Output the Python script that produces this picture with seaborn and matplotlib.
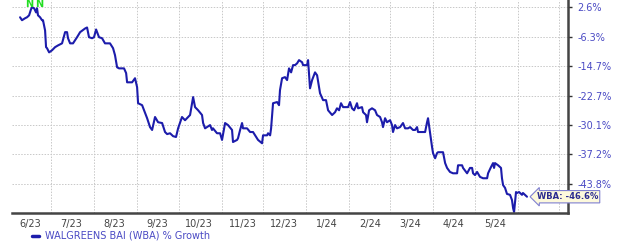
import numpy as np
import pandas as pd
import matplotlib
matplotlib.use("Agg")
import matplotlib.pyplot as plt
import matplotlib.dates as mdates
import seaborn as sns

# ---- data ----
start_date = "2023-06-09"
days = [0, 1.4, 3.6, 5.0, 6.5, 7.9, 8.6, 10.1, 11.5, 12.2, 12.9, 14.4, 15.8, 16.5, 18.0, 18.7, 19.4, 20.9,
        23.0, 25.2, 27.3, 30.2, 32.4, 33.8, 34.5, 36.0, 38.1, 41.0, 43.2, 46.8, 48.2, 49.6, 51.8, 53.2,
        54.7, 55.4, 56.8, 59.0, 61.1, 64.7, 66.9, 68.3, 69.8, 71.2, 74.8, 76.3, 77.0, 80.6, 82.7, 84.2,
        84.9, 87.8, 91.4, 93.5, 95.0, 97.1, 99.3, 102.2, 104.3, 105.8, 107.9, 110.1, 112.2, 113.7, 116.5,
        118.7, 122.3, 124.5, 125.9, 128.1, 130.9, 131.7, 133.1, 134.5, 136.7, 138.1, 138.8, 141.7, 143.9,
        145.3, 147.5, 149.6, 152.5, 153.2, 156.1, 156.8, 158.3, 159.7, 160.4, 163.3, 165.5, 167.6, 169.1,
        171.2, 174.1, 174.8, 177.7, 178.4, 179.9, 180.6, 182.0, 184.9, 186.3, 187.0, 188.5, 190.6, 192.1,
        193.5, 195.0, 196.4, 197.8, 199.3, 200.7, 202.9, 203.6, 206.5, 207.2, 208.6, 210.1, 212.2, 213.7,
        215.8, 218.0, 220.1, 221.6, 224.5, 226.6, 228.0, 229.5, 230.9, 232.4, 236.0, 237.4, 238.8, 240.3,
        242.4, 243.2, 246.0, 246.8, 248.9, 249.6, 251.1, 253.2, 255.4, 256.8, 259.0, 260.4, 261.1, 262.6,
        264.0, 266.2, 267.6, 268.3, 269.8, 271.2, 273.4, 275.5, 277.0, 279.1, 280.6, 282.7, 284.2, 285.6,
        286.3, 289.9, 291.4, 292.8, 293.5, 295.0, 296.4, 297.1, 298.6, 300.0, 300.7, 304.3, 305.8, 307.2,
        309.3, 311.5, 314.4, 315.1, 318.0, 318.7, 321.6, 323.7, 325.2, 325.9, 327.3, 328.8, 330.9, 333.1,
        336.0, 336.7, 338.8, 340.3, 341.0, 341.7, 343.9, 346.0, 346.7, 347.5, 348.9, 350.3, 352.5, 353.9,
        354.7, 355.4, 356.1, 356.8, 357.5, 359.0, 361.1, 361.8, 364.7]
growth = [-0.5, -1.4, -0.8, -0.5, 0.1, 2.0, 2.6, 2.3, 1.0, 2.3, 0.1, -0.5, -1.4, -1.4, -4.5, -9.4, -9.7, -10.9,
          -10.3, -9.4, -8.9, -8.3, -5.0, -5.0, -6.8, -8.3, -8.3, -6.5, -5.0, -3.9, -3.6, -6.5, -6.8, -6.5,
          -4.2, -5.0, -6.5, -6.8, -8.3, -8.3, -9.7, -11.7, -15.1, -15.4, -15.4, -16.7, -19.2, -19.2, -18.1, -20.5,
          -24.7, -25.2, -28.5, -30.7, -31.4, -28.2, -29.5, -29.7, -31.9, -32.4, -32.2, -32.9, -33.1, -31.0, -28.2,
          -29.0, -27.7, -23.1, -25.7, -26.5, -27.7, -29.7, -31.0, -30.7, -30.2, -31.4, -31.0, -32.2, -32.2,
          -33.8, -29.7, -30.2, -31.4, -34.3, -33.8, -33.4, -31.4, -29.7, -31.0, -31.0, -31.9, -31.9, -32.7,
          -33.8, -34.6, -32.7, -32.7, -32.2, -32.7, -31.0, -24.7, -24.4, -25.2, -21.3, -18.1, -17.8, -18.6,
          -15.4, -16.5, -14.5, -14.5, -14.0, -13.1, -13.7, -14.5, -14.5, -13.1, -20.8, -18.6, -16.5, -17.3,
          -22.1, -23.9, -23.9, -26.5, -27.7, -27.0, -26.0, -26.5, -24.7, -25.7, -25.7, -24.4, -26.0, -26.5,
          -24.7, -26.0, -25.7, -27.0, -27.7, -29.5, -26.5, -26.0, -26.5, -27.7, -28.2, -29.5, -30.7, -28.5,
          -29.5, -29.0, -30.2, -31.9, -30.2, -31.0, -30.7, -29.7, -31.0, -31.0, -30.7, -31.4, -31.4, -30.7,
          -31.9, -31.9, -31.9, -29.5, -28.5, -32.2, -35.5, -36.9, -38.1, -36.9, -36.7, -36.7, -39.2, -40.3,
          -41.2, -41.5, -41.5, -39.7, -39.7, -40.3, -41.5, -40.3, -40.3, -41.5, -41.9, -41.2, -42.3, -42.6,
          -42.6, -41.5, -40.1, -39.2, -40.3, -39.2, -39.7, -40.3, -42.6, -44.1, -44.7, -46.0, -46.2, -47.3,
          -49.0, -49.8, -47.7, -45.6, -45.8, -45.6, -46.2, -45.8, -46.6]
y_ticks = [2.6, -6.3, -14.7, -22.7, -30.1, -37.2, -43.8]
y_tick_labels = ["2.6%", "-6.3%", "-14.7%", "-22.7%", "-30.1%", "-37.2%", "-43.8%"]
month_labels = ["6/23", "7/23", "8/23", "9/23", "10/23", "11/23", "12/23",
                "1/24", "2/24", "3/24", "4/24", "5/24"]
first_month = "2023-06-01"
series_name = "WALGREENS BAI (WBA) % Growth"
last_label = "WBA: -46.6%"
event_days = [6.8, 13.7]
event_labels = ["N", "N"]

# ---- build frame ----
t0 = pd.Timestamp(start_date)
df = pd.DataFrame({"date": t0 + pd.to_timedelta(days, unit="D"), "growth": growth})

sns.set_theme(style="white")
plt.rcParams["font.family"] = ["DejaVu Sans"]

W, H = 620, 248
fig = plt.figure(figsize=(W / 100, H / 100), dpi=100)
ax = fig.add_axes([12 / W, 1 - 213 / H, 556 / W, 213 / H])

line_color = "#1c1cab"
label_color = "#4a4ac4"

sns.lineplot(data=df, x="date", y="growth", ax=ax, color=line_color, linewidth=1.5,
             label=series_name, legend=False)

# y scale (ratio-like scale of the source chart)
ax.set_yscale("function", functions=(lambda v: np.log(np.asarray(v) + 150.0),
                                     lambda v: np.exp(np.asarray(v)) - 150.0))
ax.set_ylim(-50, 4.9)
ax.set_yticks(y_ticks)
ax.set_yticklabels(y_tick_labels)
ax.yaxis.tick_right()
ax.yaxis.set_minor_locator(matplotlib.ticker.NullLocator())
ax.tick_params(axis="y", which="major", right=True, left=False, length=3, width=1,
               color="#333333", direction="out", pad=3.5, labelsize=7, labelcolor=label_color)

# x axis: grid at month starts, labels mid-month
ax.set_xlim(t0 - pd.Timedelta(days=5.8), t0 + pd.Timedelta(days=394.2))
ax.xaxis.set_major_locator(mdates.MonthLocator())
ax.xaxis.set_major_formatter(matplotlib.ticker.NullFormatter())
mid_dates = pd.date_range(first_month, periods=len(month_labels), freq="MS") + pd.Timedelta(days=15)
ax.set_xticks(mid_dates, minor=True)
ax.set_xticklabels(month_labels, minor=True)
ax.tick_params(axis="x", which="both", length=0, pad=4, labelsize=7, labelcolor="#444444")

ax.set_xlabel("")
ax.set_ylabel("")

# grid
ax.grid(True, which="major", axis="both", color="#c8c8c8", linestyle=(0, (1.5, 1.5)), linewidth=0.7)
ax.set_axisbelow(True)

for s in ["left", "top"]:
    ax.spines[s].set_visible(False)
for s in ["right", "bottom"]:
    ax.spines[s].set_visible(True)
    ax.spines[s].set_color("#444444")
    ax.spines[s].set_linewidth(1.8)

# event markers
for d, lab in zip(event_days, event_labels):
    ax.text(t0 + pd.Timedelta(days=d), 0.979, lab, transform=ax.get_xaxis_transform(),
            ha="center", va="center", color="#22dd22", fontsize=7, fontweight="bold")

# last value callout
ax.annotate(last_label, xy=(df["date"].iloc[-1], df["growth"].iloc[-1]),
            xytext=(7, 0), textcoords="offset points", ha="left", va="center",
            fontsize=6, fontweight="bold", color="#2a2a90", annotation_clip=False,
            bbox=dict(boxstyle="larrow,pad=0.2", fc="#fdf9dc", ec="#8080d0", lw=0.8),
            zorder=10)

# legend
handles, labels = ax.get_legend_handles_labels()
leg = fig.legend(handles, labels, loc="center left", bbox_to_anchor=(32 / W, 1 - 236 / H),
                 frameon=False, fontsize=7, handlelength=0.7, handletextpad=0.6,
                 borderpad=0, borderaxespad=0)
for t in leg.get_texts():
    t.set_color(label_color)
for l in leg.get_lines():
    l.set_linewidth(2.5)

fig.savefig("out.png", dpi=100)
